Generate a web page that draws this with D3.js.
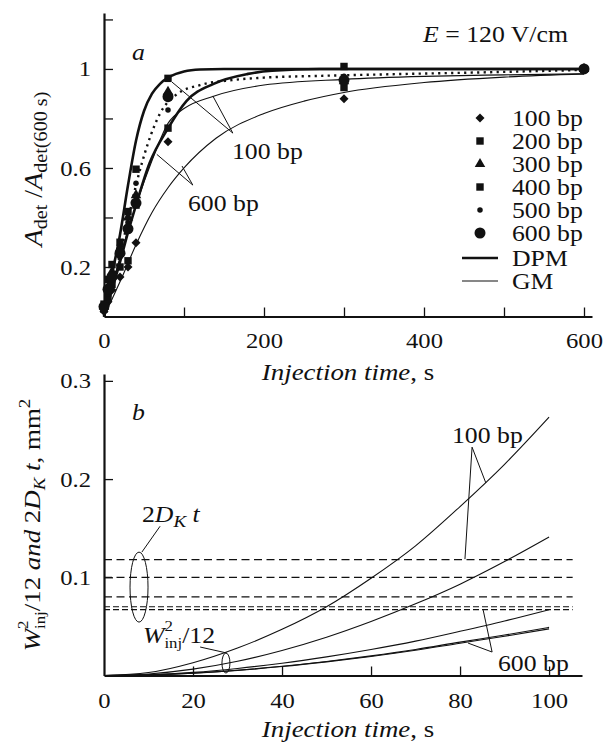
<!DOCTYPE html>
<html><head><meta charset="utf-8">
<script src="https://cdn.jsdelivr.net/npm/d3@7"></script>
<style>
body{margin:0;background:#fff}
text{font-family:"Liberation Serif","Times New Roman",serif;fill:#111}
</style>
</head><body>
<svg id="c" width="607" height="745"></svg>
<script>
// ---------------- DATA: panel a ----------------
const timesA = [0, 5, 10, 20, 30, 40, 80, 300, 600];
const pts100 = [0.02, 0.06, 0.107, 0.16, 0.20, 0.298, 0.706, 0.88, 1.0];
const pts200 = [0.05, 0.15, 0.21, 0.30, 0.424, 0.595, 0.962, 1.01, 1.0];
const pts300 = [0.04, 0.12, 0.18, 0.27, 0.40, 0.49, 0.908, 0.95, 1.0];
const pts400 = [0.03, 0.08, 0.13, 0.20, 0.225, 0.45, 0.761, 0.925, 1.0];
const pts500 = [0.03, 0.09, 0.16, 0.24, 0.38, 0.538, 0.834, 0.97, 1.0];
const pts600 = [0.04, 0.11, 0.16, 0.256, 0.354, 0.458, 0.888, 0.955, 1.0];
const seriesNames = ["100 bp", "200 bp", "300 bp", "400 bp", "500 bp", "600 bp"];

const dpm100T = [0, 10, 20, 30, 40, 50, 60, 70, 80, 90, 100, 120, 150, 200, 300, 600];
const dpm100V = [0, 0.17, 0.33, 0.53, 0.71, 0.83, 0.90, 0.94, 0.965, 0.98, 0.99, 0.998, 1, 1, 1, 1];
const dottedT = [0, 10, 20, 30, 40, 55, 70, 90, 120, 160, 200, 270, 350, 470, 600];
const dottedV = [0, 0.12, 0.25, 0.39, 0.53, 0.70, 0.82, 0.895, 0.935, 0.955, 0.965, 0.972, 0.978, 0.986, 0.996];
const dpm600T = [0, 10, 20, 30, 40, 57, 80, 103, 137, 180, 210, 270, 600];
const dpm600V = [0, 0.11, 0.22, 0.34, 0.45, 0.62, 0.76, 0.87, 0.94, 0.98, 0.993, 1.0, 1.0];
const gm100T = [0, 10, 20, 40, 60, 80, 100, 137, 200, 300, 400, 500, 600];
const gm100V = [0, 0.12, 0.24, 0.45, 0.63, 0.78, 0.84, 0.89, 0.935, 0.958, 0.97, 0.976, 0.98];
const gm600T = [0, 10, 20, 40, 60, 80, 100, 140, 200, 250, 300, 400, 500, 600];
const gm600V = [0, 0.07, 0.14, 0.29, 0.42, 0.52, 0.60, 0.72, 0.82, 0.87, 0.905, 0.945, 0.967, 0.98];

const xTicksA = [0, 100, 200, 300, 400, 500, 600];
const xLabelsA = [0, 200, 400, 600];
const yTicksA = [0.2, 0.4, 0.6, 0.8, 1.0, 1.2];
const yLabelsA = [0.2, 0.6, 1.0];

// ---------------- DATA: panel b ----------------
const timesB = [0, 10, 20, 30, 40, 50, 60, 70, 80, 90, 100];
const w100 = [0, 0.003, 0.013, 0.028, 0.047, 0.070, 0.099, 0.132, 0.172, 0.215, 0.263];
const w200 = [0, 0.0016, 0.0065, 0.0145, 0.0255, 0.039, 0.055, 0.073, 0.093, 0.116, 0.141];
const w300 = [0, 0.0008, 0.0032, 0.0072, 0.0125, 0.019, 0.0265, 0.035, 0.045, 0.0555, 0.067];
const w400 = [0, 0.0006, 0.0024, 0.0054, 0.0094, 0.0143, 0.020, 0.0265, 0.034, 0.0412, 0.049];
const w500 = [0, 0.0006, 0.0023, 0.0052, 0.0091, 0.0139, 0.0194, 0.0257, 0.0329, 0.0399, 0.0475];
const dk = [0.118, 0.100, 0.080, 0.070, 0.067];
const dkEnd = 105.3;
const xTicksB = [0, 20, 40, 60, 80, 100];
const yTicksB = [0.1, 0.2, 0.3];

// ---------------- SETUP ----------------
const SX = 1.12;
const svg = d3.select("#c");
const FONT = 22;

const xA = d3.scaleLinear().domain([0, 610]).range([104, 592]);
const yA = d3.scaleLinear().domain([0, 1.226]).range([316.5, 13]);
const xB = d3.scaleLinear().domain([0, 107.4]).range([104, 582]);
const yB = d3.scaleLinear().domain([0, 0.307]).range([675.5, 374]);

function styleAxis(g, isY, pad) {
  g.select(".domain").attr("stroke", "#111").attr("stroke-width", 2.2);
  g.selectAll(".tick line").attr("stroke", "#111").attr("stroke-width", 1.3);
  g.selectAll(".tick text").attr("font-size", FONT).attr("fill", "#111")
   .attr("font-family", '"Liberation Serif","Times New Roman",serif')
   .attr("transform", `scale(${SX},1)`);
  if (isY) g.selectAll(".tick text").attr("x", -pad / SX);
}
const fmt = d => (d === 1 ? "1" : String(d));

// Panel a axes
const gxA = svg.append("g").attr("transform", `translate(0,${yA(0)})`)
  .call(d3.axisBottom(xA).tickValues(xTicksA).tickSize(-9).tickSizeOuter(0).tickPadding(16)
    .tickFormat(d => xLabelsA.includes(d) ? d : ""));
styleAxis(gxA, false);
const gyA = svg.append("g").attr("transform", `translate(${xA(0)},0)`)
  .call(d3.axisLeft(yA).tickValues(yTicksA).tickSize(-9).tickSizeOuter(0).tickPadding(13)
    .tickFormat(d => yLabelsA.some(v => Math.abs(v - d) < 1e-9) ? fmt(+d.toFixed(1)) : ""));
styleAxis(gyA, true, 13);

// Panel b axes
const gxB = svg.append("g").attr("transform", `translate(0,${yB(0)})`)
  .call(d3.axisBottom(xB).tickValues(xTicksB).tickSize(-9).tickSizeOuter(0).tickPadding(17));
styleAxis(gxB, false);
gxB.selectAll(".tick").filter(d => d === 0).select("line").remove();
const gyB = svg.append("g").attr("transform", `translate(${xB(0)},0)`)
  .call(d3.axisLeft(yB).tickValues(yTicksB).tickSize(-9).tickSizeOuter(0).tickPadding(13)
    .tickFormat(d => d.toFixed(1)));
styleAxis(gyB, true, 13);

// ---------------- text helper ----------------
function T(x, y, parts, opt = {}) {
  const t = svg.append("text")
    .attr("transform", `translate(${x},${y})` + (opt.rot ? " rotate(-90)" : "") + ` scale(${SX},1)`)
    .attr("text-anchor", opt.anchor || "start")
    .attr("font-size", opt.size || 23);
  parts.forEach(p => {
    if (typeof p === "string") p = { t: p };
    const s = t.append("tspan").text(p.t);
    if (p.i) s.attr("font-style", "italic");
    if (p.fs) s.attr("font-size", p.fs);
    if (p.dy) s.attr("dy", p.dy);
    if (p.dx) s.attr("dx", p.dx);
  });
  return t;
}

// ---------------- Panel a curves ----------------
const lineA = d3.line().x(d => xA(d[0])).y(d => yA(d[1])).curve(d3.curveMonotoneX);
const zip = (a, b) => a.map((v, i) => [v, b[i]]);
const gA = svg.append("g").attr("fill", "none").attr("stroke", "#111");
gA.append("path").attr("d", lineA(zip(gm600T, gm600V))).attr("stroke-width", 1.1);
gA.append("path").attr("d", lineA(zip(gm100T, gm100V))).attr("stroke-width", 1.1);
gA.append("path").attr("d", lineA(zip(dottedT, dottedV))).attr("stroke-width", 2.4).attr("stroke-dasharray", "2.2,4.3");
gA.append("path").attr("d", lineA(zip(dpm600T, dpm600V))).attr("stroke-width", 2.6);
gA.append("path").attr("d", lineA(zip(dpm100T, dpm100V))).attr("stroke-width", 2.6);

// markers
const diamond = { draw(ctx, size) { const r = Math.sqrt(size) * 0.6; ctx.moveTo(0, -r); ctx.lineTo(r, 0); ctx.lineTo(0, r); ctx.lineTo(-r, 0); ctx.closePath(); } };
const symTypes = [[diamond, 56], [d3.symbolSquare, 55], [d3.symbolTriangle, 48], [d3.symbolSquare, 55], [d3.symbolCircle, 24], [d3.symbolCircle, 95]];
const allPts = [pts100, pts200, pts300, pts400, pts500, pts600];
allPts.forEach((vals, k) => {
  const [ty, sz] = symTypes[k];
  svg.append("g").selectAll("path").data(zip(timesA, vals)).join("path")
    .attr("transform", d => `translate(${xA(d[0])},${yA(d[1])})`)
    .attr("d", d3.symbol(ty, sz)).attr("fill", "#111");
});

// legend
seriesNames.forEach((n, k) => {
  const cy = 118 + k * 23;
  const [ty, sz] = symTypes[k];
  svg.append("path").attr("transform", `translate(480,${cy})`).attr("d", d3.symbol(ty, sz)).attr("fill", "#111");
  T(512, cy + 8, [n]);
});
[["DPM", 2.6], ["GM", 1.1]].forEach(([n, w], k) => {
  const cy = 258 + k * 23;
  svg.append("line").attr("x1", 462).attr("x2", 498).attr("y1", cy).attr("y2", cy).attr("stroke", "#111").attr("stroke-width", w);
  T(512, cy + 8, [n]);
});

// panel a annotations
T(132, 60, [{ t: "a", i: 1 }]);
T(423, 42, [{ t: "E", i: 1 }, " = 120 V/cm"]);
T(232, 159, ["100 bp"]);
T(188, 211, ["600 bp"]);
const leadA = [[[161, 0.741], [136, 0.891]], [[161, 0.741], [85, 0.947]],
               [[111, 0.531], [66, 0.655]], [[111, 0.531], [97.5, 0.608]]];
leadA.forEach(([p, q]) => svg.append("line").attr("x1", xA(p[0])).attr("y1", yA(p[1])).attr("x2", xA(q[0])).attr("y2", yA(q[1])).attr("stroke", "#111").attr("stroke-width", 1));

// axis titles
T(348, 380, [{ t: "Injection time", i: 1 }, ", s"], { anchor: "middle", size: 24 });
T(348, 737, [{ t: "Injection time", i: 1 }, ", s"], { anchor: "middle", size: 24 });
T(42, 169, [{ t: "A", i: 1 }, { t: "det", fs: 18, dy: 5 }, { t: " /", dy: -5 }, { t: "A", i: 1 }, { t: "det(600 s)", fs: 18, dy: 5 }], { anchor: "middle", rot: 1, size: 25 });
T(40, 525, [{ t: "W", i: 1 }, { t: "2", fs: 15, dy: -12 }, { t: "inj", fs: 15, dx: -7.5, dy: 17 }, { t: "/12 ", dy: -5 }, { t: "and", i: 1 }, " 2", { t: "D", i: 1 }, { t: "K", fs: 17, dy: 5, i: 1 }, { t: " t", i: 1, dy: -5 }, ", mm", { t: "2", fs: 17, dy: -10 }], { anchor: "middle", rot: 1, size: 24 });

// ---------------- Panel b ----------------
const gB = svg.append("g").attr("fill", "none").attr("stroke", "#111");
dk.forEach((v, k) => {
  gB.append("line").attr("x1", xB(0)).attr("x2", xB(dkEnd)).attr("y1", yB(v)).attr("y2", yB(v))
    .attr("stroke-width", 1.2).attr("stroke-dasharray", k >= 3 ? "6,3" : "8,4.5");
});
const lineB = d3.line().x(d => xB(d[0])).y(d => yB(d[1])).curve(d3.curveMonotoneX);
[w100, w200, w300, w400, w500].forEach(vals => {
  gB.append("path").attr("d", lineB(zip(timesB, vals))).attr("stroke-width", 1.1);
});
// annotations panel b
T(132, 420, [{ t: "b", i: 1 }]);
T(452, 443, ["100 bp"]);
T(498, 671, ["600 bp"]);
T(142, 522, ["2", { t: "D", i: 1 }, { t: "K", fs: 17, dy: 5, i: 1 }, { t: " t", dy: -5, i: 1 }]);
T(143, 643, [{ t: "W", i: 1 }, { t: "2", fs: 15, dy: -12 }, { t: "inj", fs: 15, dx: -7.5, dy: 17 }, { t: "/12", dy: -5 }]);
const leadB = [[[82.7, 0.2325], [85.8, 0.196]], [[82.7, 0.2325], [81.1, 0.1185]],
               [[87.2, 0.0239], [85.2, 0.0666]], [[87.2, 0.0239], [81.8, 0.033]],
               [[12.6, 0.152], [8.5, 0.1256]], [[21.6, 0.029], [27.6, 0.0229]]];
leadB.forEach(([p, q]) => gB.append("line").attr("x1", xB(p[0])).attr("y1", yB(p[1])).attr("x2", xB(q[0])).attr("y2", yB(q[1])).attr("stroke-width", 1));
gB.append("ellipse").attr("cx", xB(7.87)).attr("cy", yB(0.090)).attr("rx", 9).attr("ry", 35).attr("stroke-width", 1);
gB.append("ellipse").attr("cx", xB(27.4)).attr("cy", yB(0.0127)).attr("rx", 4).attr("ry", 10).attr("stroke-width", 1);
</script>
</body></html>
